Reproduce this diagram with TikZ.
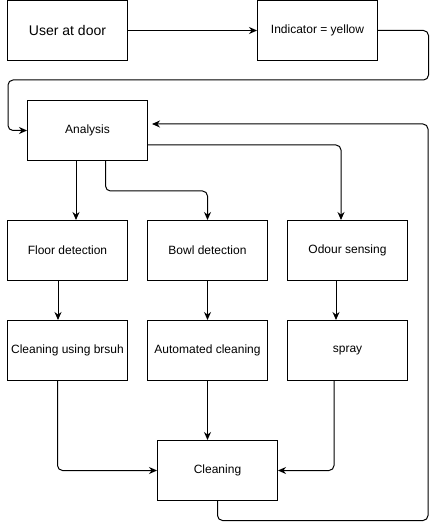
\documentclass[tikz,border=0pt]{standalone}
\usepackage{fontspec}
\setmainfont{Liberation Sans}
\usepackage{tikz}
\usetikzlibrary{arrows.meta}

\tikzset{
  box/.style={draw, rectangle, line width=1pt, minimum width=120pt, minimum height=60pt,
    inner sep=0pt, font=\fontsize{12}{14}\selectfont},
  flow/.style={line width=1pt, rounded corners=5pt, -{Stealth[length=8pt,width=7pt]}}
}

\begin{document}
\begin{tikzpicture}[x=1pt, y=-1pt]
     \useasboundingbox (0, 0) rectangle (436, 529);
     % boxes
     \node[box, font=\fontsize{14}{16}\selectfont] (user) at (67.5, 30.5) {User at door};
     \node[box] (indicator) at (317.5, 30.5) {Indicator = yellow};
     \node[box] (analysis) at (87.5, 130.5) {Analysis};
     \node[box] (floor) at (67.5, 250.5) {Floor detection};
     \node[box] (bowl) at (207.5, 250.5) {Bowl detection};
     \node[box] (odour) at (347.5, 250.5) {Odour sensing};
     \node[box] (brush) at (67.5, 350.5) {Cleaning using brsuh};
     \node[box] (auto) at (207.5, 350.5) {Automated cleaning};
     \node[box] (spray) at (347.5, 350.5) {spray};
     \node[box] (cleaning) at (217.5, 470.5) {Cleaning};
     \coordinate (back) at (152, 124);
     % arrows
     \draw[flow] (user) -- (indicator);
     \draw[flow] (indicator.east) -- ++(50.5, 0) |- (8, 80) |- (analysis.west);
     \draw[flow] ([xshift=-11.5pt]analysis.south) -- ([xshift=8.5pt]floor.north);
     \draw[flow] ([xshift=18pt]analysis.south) -- ++(0, 30) -| (bowl.north);
     \draw[flow] ([yshift=-14.5pt]analysis.east) -| ([xshift=-6.5pt]odour.north);
     \draw[flow] ([xshift=-9.5pt]floor.south) -- ([xshift=-9.5pt]brush.north);
     \draw[flow] (bowl) -- (auto);
     \draw[flow] ([xshift=-11.5pt]odour.south) -- ([xshift=-11.5pt]spray.north);
     \draw[flow] ([xshift=-10pt]brush.south) |- (cleaning.west);
     \draw[flow] (auto.south) -- (auto.south |- cleaning.north);
     \draw[flow] ([xshift=-13.5pt]spray.south) |- (cleaning.east);
     \draw[flow] (cleaning.south) -- ++(0, 19.5) -| (428, 124) -- (back);
\end{tikzpicture}
\end{document}
